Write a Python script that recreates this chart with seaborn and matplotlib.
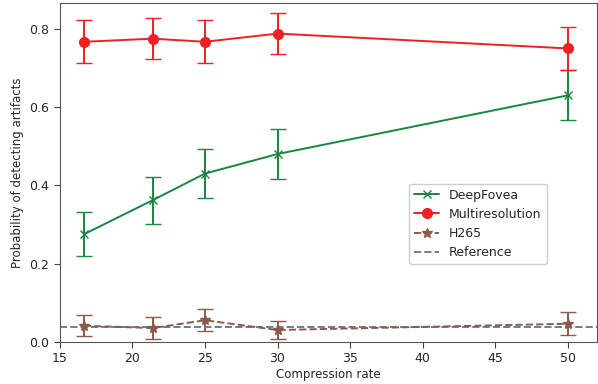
import numpy as np
import pandas as pd
import seaborn as sns
import matplotlib
matplotlib.use("Agg")
import matplotlib.pyplot as plt

# Compression rates and measured detection probabilities
rates = [16.67, 21.4, 25, 30, 50]
deepfovea = [0.275, 0.362, 0.430, 0.480, 0.630]
deepfovea_err = [0.056, 0.060, 0.062, 0.065, 0.064]
multires = [0.767, 0.775, 0.767, 0.788, 0.750]
multires_err = [0.055, 0.052, 0.055, 0.052, 0.055]
h265 = [0.041, 0.035, 0.055, 0.030, 0.046]
h265_err = [0.027, 0.028, 0.028, 0.023, 0.029]
reference = 0.037

sns.set_style("ticks")
plt.rcParams["font.family"] = ["DejaVu Sans"]

fig, ax = plt.subplots(figsize=(5.98, 3.84), dpi=100)

green = "#1a8540"
red = "#ee1f25"
brown = "#8c5a4c"
slate = "#6a7d95"

e1 = ax.errorbar(rates, deepfovea, yerr=deepfovea_err, color=green, marker="x",
                 markersize=6, capsize=6, lw=1.4)
e2 = ax.errorbar(rates, multires, yerr=multires_err, color=red, marker="o",
                 markersize=7, capsize=6, lw=1.4)
e3 = ax.errorbar(rates, h265, yerr=h265_err, color=brown, marker="*",
                 markersize=7, capsize=6, lw=1.4, ls="--")
ref = ax.axhline(reference, color=slate, lw=1.4, ls="--")

ax.set_xlim(15, 52)
ax.set_ylim(0, 0.866)
ax.set_xticks(range(15, 51, 5))
ax.set_yticks([0.0, 0.2, 0.4, 0.6, 0.8])
ax.set_xlabel("Compression rate", fontsize=8.5, labelpad=2)
ax.set_ylabel("Probability of detecting artifacts", fontsize=8.5)
ax.tick_params(labelsize=9, length=4, color="#444444")
for s in ax.spines.values():
    s.set_color("#555555")

ax.legend([e1.lines[0], e2.lines[0], e3.lines[0], ref],
          ["DeepFovea", "Multiresolution", "H265", "Reference"],
          loc="center right", bbox_to_anchor=(0.918, 0.348), fontsize=9,
          frameon=True, framealpha=1, edgecolor="#cccccc", handlelength=2)

fig.subplots_adjust(left=0.1, right=0.998, top=0.992, bottom=0.11)
fig.savefig("out.png", dpi=100)
